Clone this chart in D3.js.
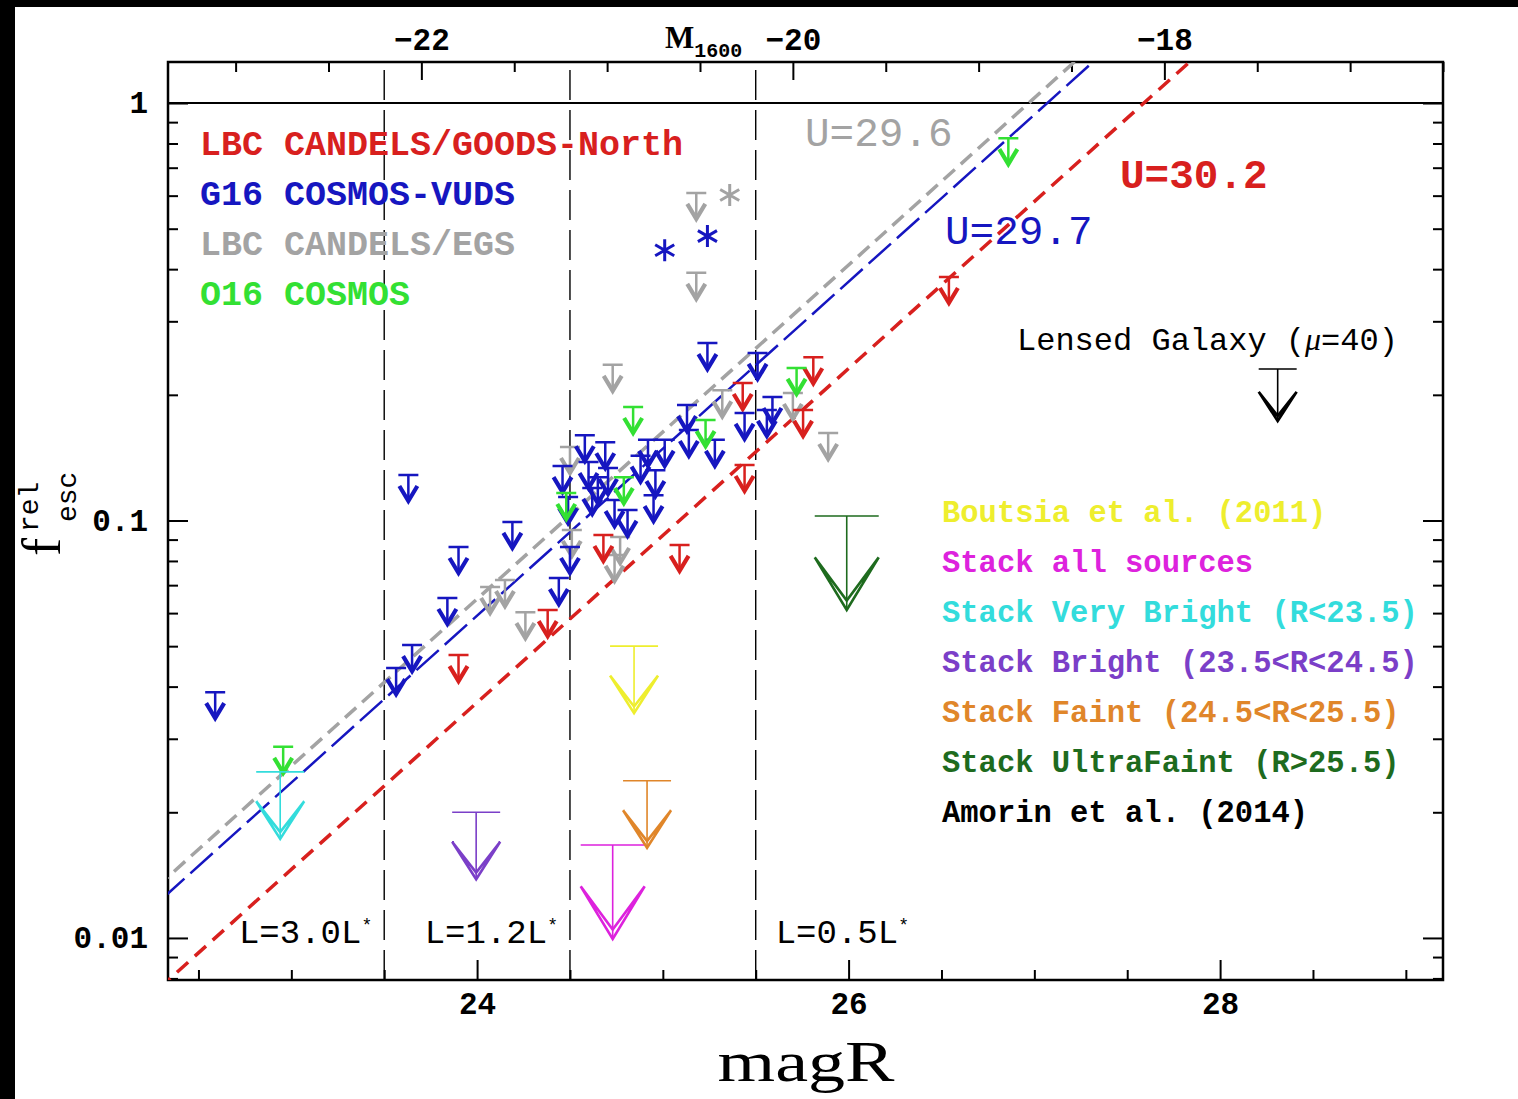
<!DOCTYPE html>
<html>
<head>
<meta charset="utf-8">
<script src="https://cdn.jsdelivr.net/npm/d3@7"></script>
<style>
  body { margin: 0; background: #fff; }
  svg { display: block; }
</style>
</head>
<body>
<svg id="chart" width="1518" height="1099"></svg>
<script>
// axis ranges
var magDomain = [22.336, 29.2];
var fescDomain = [0.00793, 1.254];
var absOffset = 45.70; // M1600 = magR - 45.70

// upper limits, [magR, fesc]
var redLimits = [
  [26.54, 0.383], [25.43, 0.2135], [25.81, 0.246], [25.755, 0.184], [25.44, 0.1358],
  [25.09, 0.0874], [24.68, 0.0923], [24.38, 0.0610], [23.90, 0.0476]
];
var blueLimits = [
  [22.59, 0.0388], [23.63, 0.1285], [23.90, 0.0864], [23.84, 0.0652], [23.65, 0.0503],
  [23.564, 0.0443], [24.19, 0.0992], [24.44, 0.0728], [24.50, 0.0864], [24.46, 0.135],
  [24.58, 0.160], [24.69, 0.154], [24.60, 0.138], [24.705, 0.1336], [24.49, 0.1138],
  [24.62, 0.1197], [24.74, 0.1119], [24.81, 0.106], [24.92, 0.156], [25.01, 0.156],
  [24.96, 0.132], [24.95, 0.115], [25.13, 0.189], [25.14, 0.1647], [25.24, 0.266],
  [25.28, 0.156], [25.51, 0.252], [25.44, 0.181], [25.56, 0.184], [25.59, 0.1976],
  [24.65, 0.127], [24.88, 0.143]
];
var grayLimits = [
  [25.18, 0.609], [25.18, 0.392], [24.73, 0.236], [25.32, 0.205], [25.70, 0.202],
  [25.89, 0.162], [24.50, 0.150], [24.51, 0.0949], [24.77, 0.0913], [24.74, 0.0827],
  [24.07, 0.0693], [24.15, 0.0720], [24.26, 0.0603]
];
var greenLimits = [
  [26.86, 0.824], [25.72, 0.232], [24.84, 0.187], [25.23, 0.174], [24.79, 0.127],
  [24.48, 0.1164], [22.956, 0.0287]
];
// detections
var blueDetections = [[25.01, 0.444], [25.24, 0.480]];
var grayDetections = [[25.36, 0.602]];

// stacks and literature
var stackNames = [
  'Boutsia et al. (2011)', 'Stack all sources', 'Stack Very Bright (R<23.5)',
  'Stack Bright (23.5<R<24.5)', 'Stack Faint (24.5<R<25.5)', 'Stack UltraFaint (R>25.5)',
  'Amorin et al. (2014)'
];
var stackMag = [24.845, 24.73, 22.94, 23.995, 24.915, 25.99, 28.31];
var stackFesc = [0.0500, 0.0167, 0.0250, 0.0200, 0.0238, 0.1025, 0.2306];

var sampleNames = ['LBC CANDELS/GOODS-North', 'G16 COSMOS-VUDS', 'LBC CANDELS/EGS', 'O16 COSMOS'];

// depth lines, two end points each
var depthLabels = ['U=29.6', 'U=29.7', 'U=30.2'];
var depthLines = [
  [[22.0, 0.01028], [27.5, 1.63]],
  [[22.0, 0.00938], [27.5, 1.486]],
  [[22.0, 0.00581], [28.0, 1.459]]
];

var lumCuts = [23.5, 24.5, 25.5];
var lumLabels = ['L=3.0L', 'L=1.2L', 'L=0.5L'];

var magMajor = [24, 26, 28];
var absMajor = [-22, -20, -18];
var fescMajor = [0.01, 0.1, 1];
var fescMinor = [0.008, 0.009, 0.02, 0.03, 0.04, 0.05, 0.06, 0.07, 0.08, 0.09,
  0.2, 0.3, 0.4, 0.5, 0.6, 0.7, 0.8, 0.9];

// colours
var RED = '#d8201e', BLUE = '#1616c0', GRAY = '#a3a3a3', GREEN = '#33e033';
var stackColors = ['#eeee2e', '#dd22dd', '#33dcdc', '#7b3fc8', '#e0862a', '#1e6b1e', '#000000'];
var stackKind = ['mid', 'big', 'mid', 'mid', 'mid', 'big', 'small'];
var stackSizes = { mid: [48, 67], big: [64, 94], small: [38, 52] };

var MONO = '"Liberation Mono", "DejaVu Sans Mono", monospace';
var SERIF = '"Liberation Serif", "DejaVu Serif", serif';

var L = 168, R = 1443, T = 62, B = 980;

var svg = d3.select('#chart');
svg.append('rect').attr('width', 1518).attr('height', 1099).attr('fill', '#fff');

var x = d3.scaleLinear().domain(magDomain).range([L, R]);
var xAbs = d3.scaleLinear().domain([magDomain[0] - absOffset, magDomain[1] - absOffset]).range([L, R]);
var y = d3.scaleLog().domain(fescDomain).range([B, T]);

svg.append('defs').append('clipPath').attr('id', 'plotclip')
  .append('rect').attr('x', L).attr('y', T).attr('width', R - L).attr('height', B - T);

// ---- axes
function styleAxis(g) {
  g.select('.domain').remove();
  g.selectAll('line').attr('stroke', '#000').attr('stroke-width', 2);
  g.selectAll('text')
    .attr('fill', '#000')
    .style('font-family', MONO)
    .style('font-weight', 'bold')
    .style('font-size', '31px');
}

var magMinor = d3.range(22.5, 29.21, 0.5).filter(function (v) { return v % 2 !== 0; });
var absMinor = d3.range(-23, -16.49, 0.5).filter(function (v) { return v % 2 !== 0; });

svg.append('g').attr('transform', 'translate(0,' + B + ')')
  .call(d3.axisBottom(x).tickValues(magMajor).tickSize(-20).tickPadding(12).tickFormat(d3.format('d')))
  .call(styleAxis);
svg.append('g').attr('transform', 'translate(0,' + B + ')')
  .call(d3.axisBottom(x).tickValues(magMinor).tickSize(-10).tickFormat(''))
  .call(styleAxis);

svg.append('g').attr('transform', 'translate(0,' + T + ')')
  .call(d3.axisTop(xAbs).tickValues(absMajor).tickSize(-18).tickPadding(12)
    .tickFormat(function (d) { return '\u2212' + Math.abs(d); }))
  .call(styleAxis);
svg.append('g').attr('transform', 'translate(0,' + T + ')')
  .call(d3.axisTop(xAbs).tickValues(absMinor).tickSize(-10).tickFormat(''))
  .call(styleAxis);

svg.append('g').attr('transform', 'translate(' + L + ',0)')
  .call(d3.axisLeft(y).tickValues(fescMajor).tickSize(-20).tickPadding(20)
    .tickFormat(function (d) { return d === 1 ? '1' : (d === 0.1 ? '0.1' : '0.01'); }))
  .call(styleAxis);
svg.append('g').attr('transform', 'translate(' + L + ',0)')
  .call(d3.axisLeft(y).tickValues(fescMinor).tickSize(-10).tickFormat(''))
  .call(styleAxis);
svg.append('g').attr('transform', 'translate(' + R + ',0)')
  .call(d3.axisRight(y).tickValues(fescMajor).tickSize(-20).tickFormat(''))
  .call(styleAxis);
svg.append('g').attr('transform', 'translate(' + R + ',0)')
  .call(d3.axisRight(y).tickValues(fescMinor).tickSize(-10).tickFormat(''))
  .call(styleAxis);

// frame
svg.append('rect').attr('x', L).attr('y', T).attr('width', R - L).attr('height', B - T)
  .attr('fill', 'none').attr('stroke', '#000').attr('stroke-width', 2.5);

var plot = svg.append('g').attr('clip-path', 'url(#plotclip)');

// fesc = 1 line
plot.append('line')
  .attr('x1', L).attr('x2', R).attr('y1', y(1)).attr('y2', y(1))
  .attr('stroke', '#000').attr('stroke-width', 2);

// luminosity cuts
plot.selectAll('.cut').data(lumCuts).enter().append('line')
  .attr('class', 'cut')
  .attr('x1', function (d) { return x(d); }).attr('x2', function (d) { return x(d); })
  .attr('y1', B).attr('y2', T)
  .attr('stroke', '#000').attr('stroke-width', 1.4).attr('stroke-dasharray', '30,10');

// depth lines
var lineStyles = [
  { color: GRAY, width: 3.5, dash: '15,8' },
  { color: BLUE, width: 2.5, dash: '30,8' },
  { color: RED, width: 3.5, dash: '15,9' }
];
var lineGen = d3.line().x(function (d) { return x(d[0]); }).y(function (d) { return y(d[1]); });
plot.selectAll('.depth').data(depthLines).enter().append('path')
  .attr('class', 'depth')
  .attr('d', lineGen)
  .attr('fill', 'none')
  .attr('stroke', function (d, i) { return lineStyles[i].color; })
  .attr('stroke-width', function (d, i) { return lineStyles[i].width; })
  .attr('stroke-dasharray', function (d, i) { return lineStyles[i].dash; });

// small upper-limit arrows
function drawLimits(data, color) {
  var g = plot.append('g');
  var a = g.selectAll('g').data(data).enter().append('g')
    .attr('transform', function (d) { return 'translate(' + x(d[0]) + ',' + y(d[1]) + ')'; })
    .attr('stroke', color).attr('fill', 'none');
  a.append('path').attr('d', 'M-10,0H10M0,0V25').attr('stroke-width', 2.5);
  a.append('path').attr('d', 'M-9,11L0,26L9,11').attr('stroke-width', 4.2)
    .attr('stroke-linejoin', 'miter').attr('stroke-miterlimit', 10);
}
drawLimits(grayLimits, GRAY);
drawLimits(redLimits, RED);
drawLimits(blueLimits, BLUE);
drawLimits(greenLimits, GREEN);

// detections
function drawStars(data, color) {
  var r = 11;
  var c = Math.cos(Math.PI / 6) * r, s = Math.sin(Math.PI / 6) * r;
  plot.append('g').selectAll('path').data(data).enter().append('path')
    .attr('transform', function (d) { return 'translate(' + x(d[0]) + ',' + y(d[1]) + ')'; })
    .attr('d', 'M0,' + (-r) + 'V' + r + 'M' + (-c) + ',' + (-s) + 'L' + c + ',' + s + 'M' + (-c) + ',' + s + 'L' + c + ',' + (-s))
    .attr('stroke', color).attr('stroke-width', 3).attr('fill', 'none');
}
drawStars(blueDetections, BLUE);
drawStars(grayDetections, GRAY);

// stack arrows
var stacks = stackMag.map(function (m, i) { return { m: m, f: stackFesc[i], i: i }; });
var sg = plot.append('g').selectAll('g').data(stacks).enter().append('g')
  .attr('transform', function (d) { return 'translate(' + x(d.m) + ',' + y(d.f) + ')'; })
  .attr('stroke', function (d) { return stackColors[d.i]; })
  .attr('fill', 'none');
sg.append('path').attr('stroke-width', 1.6).attr('d', function (d) {
  var sz = stackSizes[stackKind[d.i]], w = sz[0] / 2, h = sz[1];
  return 'M' + (-w) + ',0H' + w + 'M0,0V' + h;
});
sg.append('path').attr('stroke-width', 2.6).attr('d', function (d) {
  var sz = stackSizes[stackKind[d.i]], w = sz[0] / 2, h = sz[1], a = h * 0.44, k = h * 0.1;
  return 'M' + (-w) + ',' + a + 'L0,' + h + 'L' + w + ',' + a +
    'M' + (-w) + ',' + a + 'L0,' + (h - k) + 'L' + w + ',' + a;
});

// ---- texts
function txt(sel, size, weight, color, family) {
  return sel.style('font-family', family || MONO).style('font-size', size + 'px')
    .style('font-weight', weight || 'normal').attr('fill', color || '#000');
}

var sampleColors = [RED, BLUE, GRAY, GREEN];
svg.append('g').selectAll('text').data(sampleNames).enter().append('text')
  .attr('x', 200).attr('y', function (d, i) { return 155 + i * 50; })
  .text(function (d) { return d; })
  .call(txt, 35, 'bold', '#000')
  .attr('fill', function (d, i) { return sampleColors[i]; });

svg.append('g').selectAll('text').data(stackNames).enter().append('text')
  .attr('x', 942).attr('y', function (d, i) { return 522 + i * 50; })
  .text(function (d) { return d; })
  .call(txt, 30.5, 'bold', '#000')
  .attr('fill', function (d, i) { return stackColors[i]; });

var lens = svg.append('text').attr('x', 1017).attr('y', 350).call(txt, 32, 'normal', '#000');
lens.append('tspan').text('Lensed Galaxy (');
lens.append('tspan').text('\u03bc').style('font-style', 'italic').style('font-family', SERIF);
lens.append('tspan').text('=40)');

var depthPos = [[805, 146], [945, 244], [1120, 188]];
var depthColors = [GRAY, BLUE, RED];
svg.append('g').selectAll('text').data(depthLabels).enter().append('text')
  .attr('x', function (d, i) { return depthPos[i][0]; })
  .attr('y', function (d, i) { return depthPos[i][1]; })
  .text(function (d) { return d; })
  .call(txt, 41, 'normal', '#000')
  .attr('fill', function (d, i) { return depthColors[i]; })
  .style('font-weight', function (d, i) { return i === 2 ? 'bold' : 'normal'; });

var lumG = svg.append('g').selectAll('text').data(lumLabels).enter().append('text')
  .attr('x', function (d, i) { return i < 2 ? x(lumCuts[i]) - 12 : x(lumCuts[i]) + 20; })
  .attr('y', 943)
  .attr('text-anchor', function (d, i) { return i < 2 ? 'end' : 'start'; })
  .call(txt, 34, 'normal', '#000');
lumG.append('tspan').text(function (d) { return d; });
lumG.append('tspan').text('*').style('font-size', '18px').attr('dy', -12);

// axis titles
svg.append('text').attr('x', 806).attr('y', 1081).attr('text-anchor', 'middle')
  .attr('textLength', 177).attr('lengthAdjust', 'spacingAndGlyphs')
  .text('magR').call(txt, 58, 'normal', '#000', SERIF);

var mt = svg.append('text').attr('x', 665).attr('y', 48).call(txt, 31, 'bold', '#000', SERIF);
mt.append('tspan').text('M');
mt.append('tspan').text('1600').attr('dy', 9).style('font-size', '20px').style('font-family', MONO);

var yl = svg.append('g').attr('transform', 'translate(60,556) rotate(-90)');
yl.append('text').attr('x', 0).attr('y', 0).text('f').call(txt, 54, 'normal', '#000', SERIF);
yl.append('text').attr('x', 24).attr('y', -22).text('rel').call(txt, 28, 'normal', '#000');
yl.append('text').attr('x', 34).attr('y', 16).text('esc').call(txt, 28, 'normal', '#000');

// black border strips of the scan
svg.append('rect').attr('x', 0).attr('y', 0).attr('width', 1518).attr('height', 7).attr('fill', '#000');
svg.append('rect').attr('x', 0).attr('y', 0).attr('width', 15).attr('height', 1099).attr('fill', '#000');
</script>
</body>
</html>
